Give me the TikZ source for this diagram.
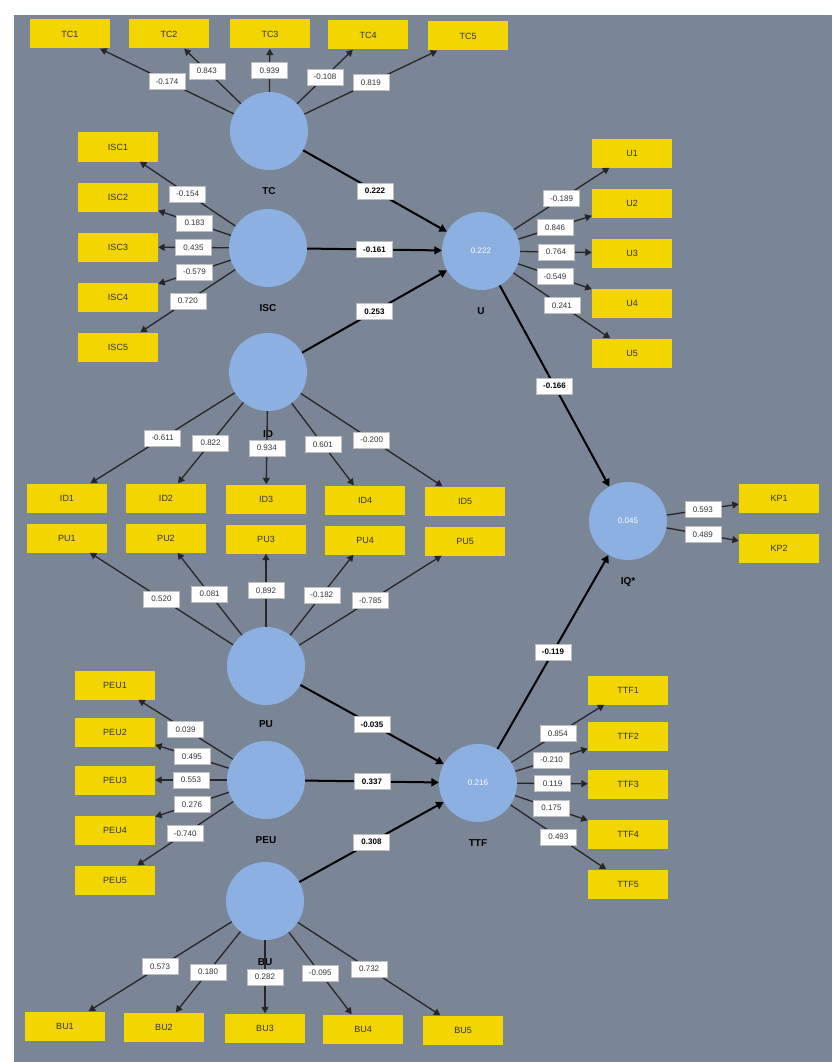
\documentclass[tikz,border=0pt]{standalone}
\usepackage{fontspec}
\setmainfont{Liberation Sans}
\usetikzlibrary{positioning,arrows.meta}
\definecolor{panelGray}{RGB}{122,134,150}
\definecolor{latentBlue}{RGB}{140,176,226}
\definecolor{itemYellow}{RGB}{243,214,0}

\begin{document}
\begin{tikzpicture}[x=1pt,y=-1pt,
	latent/.style={circle, fill=latentBlue, minimum size=78pt, inner sep=0pt, text=white, font=\fontsize{8}{9}\selectfont},
	item/.style={rectangle, fill=itemYellow, minimum width=80pt, minimum height=29pt, inner sep=1pt, text=black!80, font=\fontsize{9}{10}\selectfont},
	conLabel/.style={inner sep=1pt, text=black, font=\fontsize{10}{11}\selectfont\bfseries},
	coef/.style={rectangle, fill=white, draw=gray!50, line width=0.4pt, minimum width=36pt, minimum height=16pt, inner sep=1pt, text=black!80, font=\fontsize{8}{9}\selectfont},
	pathCoef/.style={coef, text=black, font=\fontsize{8}{9}\selectfont\bfseries},
	loadArrow/.style={draw=black!85, line width=1.3pt, -{Triangle[length=6.5pt,width=7pt]}},
	pathArrow/.style={draw=black, line width=2pt, -{Triangle[length=7.5pt,width=8pt]}}]

	\fill[white] (0,0) rectangle (832,1062);
	\fill[panelGray] (14,15) rectangle (832,1062);
	\useasboundingbox (0,0) rectangle (832,1062);

	% constructs
	\node[latent](tcCircle) at (269,131){};
	\node[latent](iscCircle) at (268,248){};
	\node[latent](idCircle) at (268,372){};
	\node[latent](uCircle) at (481,251){0.222};
	\node[latent](iqCircle) at (628,521){0.045};
	\node[latent](puCircle) at (266,666){};
	\node[latent](peuCircle) at (266,780){};
	\node[latent](ttfCircle) at (478,783){0.216};
	\node[latent](buCircle) at (265,901){};

	\node[conLabel, below=16pt of tcCircle](tcLabel){TC};
	\node[conLabel, below=16pt of iscCircle](iscLabel){ISC};
	\node[conLabel, below=18pt of idCircle](idLabel){ID};
	\node[conLabel, below=16pt of uCircle](uLabel){U};
	\node[conLabel, below=16pt of iqCircle](iqLabel){IQ*};
	\node[conLabel, below=14pt of puCircle](puLabel){PU};
	\node[conLabel, below=16pt of peuCircle](peuLabel){PEU};
	\node[conLabel, below=16pt of ttfCircle](ttfLabel){TTF};
	\node[conLabel, below=17pt of buCircle](buLabel){BU};

	% indicators
	\node[item](tc1Box) at (70,34){TC1};
	\node[item](tc2Box) at (169,34){TC2};
	\node[item](tc3Box) at (270,34){TC3};
	\node[item](tc4Box) at (368,35){TC4};
	\node[item](tc5Box) at (468,36){TC5};

	\node[item](isc1Box) at (118,147){ISC1};
	\node[item](isc2Box) at (118,197){ISC2};
	\node[item](isc3Box) at (118,247){ISC3};
	\node[item](isc4Box) at (118,297){ISC4};
	\node[item](isc5Box) at (118,347){ISC5};

	\node[item](u1Box) at (632,153){U1};
	\node[item](u2Box) at (632,203){U2};
	\node[item](u3Box) at (632,253){U3};
	\node[item](u4Box) at (632,303){U4};
	\node[item](u5Box) at (632,353){U5};

	\node[item](id1Box) at (67,498){ID1};
	\node[item](id2Box) at (166,498){ID2};
	\node[item](id3Box) at (266,499){ID3};
	\node[item](id4Box) at (365,500){ID4};
	\node[item](id5Box) at (465,501){ID5};

	\node[item](pu1Box) at (67,538){PU1};
	\node[item](pu2Box) at (166,538){PU2};
	\node[item](pu3Box) at (266,539){PU3};
	\node[item](pu4Box) at (365,540){PU4};
	\node[item](pu5Box) at (465,541){PU5};

	\node[item](peu1Box) at (115,685){PEU1};
	\node[item](peu2Box) at (115,732){PEU2};
	\node[item](peu3Box) at (115,780){PEU3};
	\node[item](peu4Box) at (115,830){PEU4};
	\node[item](peu5Box) at (115,880){PEU5};

	\node[item](ttf1Box) at (628,690){TTF1};
	\node[item](ttf2Box) at (628,736){TTF2};
	\node[item](ttf3Box) at (628,784){TTF3};
	\node[item](ttf4Box) at (628,834){TTF4};
	\node[item](ttf5Box) at (628,884){TTF5};

	\node[item](kp1Box) at (779,498){KP1};
	\node[item](kp2Box) at (779,548){KP2};

	\node[item](bu1Box) at (65,1026){BU1};
	\node[item](bu2Box) at (164,1027){BU2};
	\node[item](bu3Box) at (265,1028){BU3};
	\node[item](bu4Box) at (363,1029){BU4};
	\node[item](bu5Box) at (463,1030){BU5};

	% outer loadings
	\draw[loadArrow] (tcCircle) -- node[coef, midway]{-0.174} (tc1Box);
	\draw[loadArrow] (tcCircle) -- node[coef, pos=0.6]{0.843} (tc2Box);
	\draw[loadArrow] (tcCircle) -- node[coef, midway]{0.939} (tc3Box);
	\draw[loadArrow] (tcCircle) -- node[coef, midway]{-0.108} (tc4Box);
	\draw[loadArrow] (tcCircle) -- node[coef, midway]{0.819} (tc5Box);

	\draw[loadArrow] (iscCircle) -- node[coef, midway]{-0.154} (isc1Box);
	\draw[loadArrow] (iscCircle) -- node[coef, midway]{0.183} (isc2Box);
	\draw[loadArrow] (iscCircle) -- node[coef, midway]{0.435} (isc3Box);
	\draw[loadArrow] (iscCircle) -- node[coef, midway]{-0.579} (isc4Box);
	\draw[loadArrow] (iscCircle) -- node[coef, midway]{0.720} (isc5Box);

	\draw[loadArrow] (uCircle) -- node[coef, midway]{-0.189} (u1Box);
	\draw[loadArrow] (uCircle) -- node[coef, midway]{0.846} (u2Box);
	\draw[loadArrow] (uCircle) -- node[coef, midway]{0.764} (u3Box);
	\draw[loadArrow] (uCircle) -- node[coef, midway]{-0.549} (u4Box);
	\draw[loadArrow] (uCircle) -- node[coef, midway]{0.241} (u5Box);

	\draw[loadArrow] (idCircle) -- node[coef, midway]{-0.611} (id1Box);
	\draw[loadArrow] (idCircle) -- node[coef, midway]{0.822} (id2Box);
	\draw[loadArrow] (idCircle) -- node[coef, midway]{0.934} (id3Box);
	\draw[loadArrow] (idCircle) -- node[coef, midway]{0.601} (id4Box);
	\draw[loadArrow] (idCircle) -- node[coef, midway]{-0.200} (id5Box);

	\draw[loadArrow] (puCircle) -- node[coef, midway]{0.520} (pu1Box);
	\draw[loadArrow] (puCircle) -- node[coef, midway]{0.081} (pu2Box);
	\draw[loadArrow] (puCircle) -- node[coef, midway]{0.892} (pu3Box);
	\draw[loadArrow] (puCircle) -- node[coef, midway]{-0.182} (pu4Box);
	\draw[loadArrow] (puCircle) -- node[coef, midway]{-0.785} (pu5Box);

	\draw[loadArrow] (peuCircle) -- node[coef, midway]{0.039} (peu1Box);
	\draw[loadArrow] (peuCircle) -- node[coef, midway]{0.495} (peu2Box);
	\draw[loadArrow] (peuCircle) -- node[coef, midway]{0.553} (peu3Box);
	\draw[loadArrow] (peuCircle) -- node[coef, midway]{0.276} (peu4Box);
	\draw[loadArrow] (peuCircle) -- node[coef, midway]{-0.740} (peu5Box);

	\draw[loadArrow] (ttfCircle) -- node[coef, midway]{0.854} (ttf1Box);
	\draw[loadArrow] (ttfCircle) -- node[coef, midway]{-0.210} (ttf2Box);
	\draw[loadArrow] (ttfCircle) -- node[coef, midway]{0.119} (ttf3Box);
	\draw[loadArrow] (ttfCircle) -- node[coef, midway]{0.175} (ttf4Box);
	\draw[loadArrow] (ttfCircle) -- node[coef, midway]{0.493} (ttf5Box);

	\draw[loadArrow] (iqCircle) -- node[coef, midway]{0.593} (kp1Box);
	\draw[loadArrow] (iqCircle) -- node[coef, midway]{0.489} (kp2Box);

	\draw[loadArrow] (buCircle) -- node[coef, midway]{0.573} (bu1Box);
	\draw[loadArrow] (buCircle) -- node[coef, midway]{0.180} (bu2Box);
	\draw[loadArrow] (buCircle) -- node[coef, midway]{0.282} (bu3Box);
	\draw[loadArrow] (buCircle) -- node[coef, midway]{-0.095} (bu4Box);
	\draw[loadArrow] (buCircle) -- node[coef, midway]{0.732} (bu5Box);

	% inner model
	\draw[pathArrow] (tcCircle) -- node[pathCoef, midway]{0.222} (uCircle);
	\draw[pathArrow] (iscCircle) -- node[pathCoef, midway]{-0.161} (uCircle);
	\draw[pathArrow] (idCircle) -- node[pathCoef, midway]{0.253} (uCircle);
	\draw[pathArrow] (uCircle) -- node[pathCoef, midway]{-0.166} (iqCircle);
	\draw[pathArrow] (ttfCircle) -- node[pathCoef, midway]{-0.119} (iqCircle);
	\draw[pathArrow] (puCircle) -- node[pathCoef, midway]{-0.035} (ttfCircle);
	\draw[pathArrow] (peuCircle) -- node[pathCoef, midway]{0.337} (ttfCircle);
	\draw[pathArrow] (buCircle) -- node[pathCoef, midway]{0.308} (ttfCircle);
\end{tikzpicture}
\end{document}
